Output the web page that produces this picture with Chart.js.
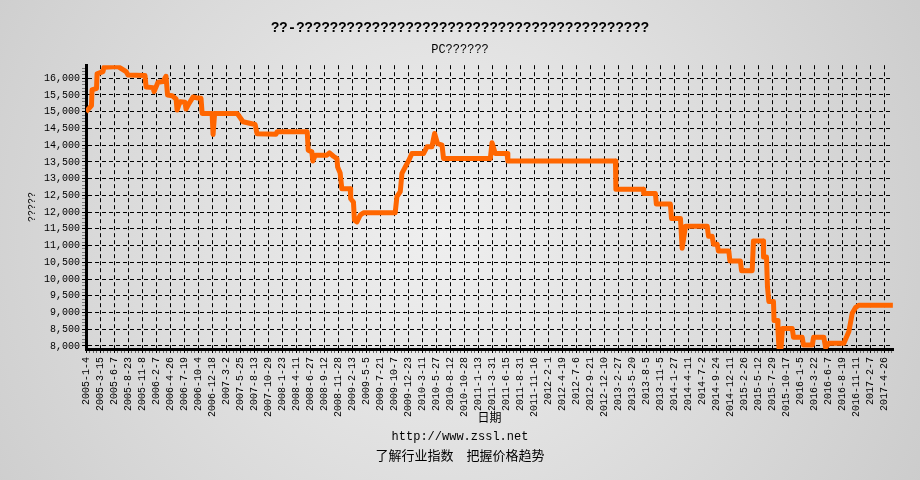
<!DOCTYPE html>
<html>
<head>
<meta charset="utf-8">
<script src="https://cdn.jsdelivr.net/npm/chart.js@4.4.0/dist/chart.umd.min.js"></script>
<style>
body { margin: 0; background: #d4d4d4; }
#wrap { width: 920px; height: 480px; }
</style>
</head>
<body>
<div id="wrap"><canvas id="PriceChart" width="920" height="480"></canvas></div>
<script>
const chartTitle = '??-??????????????????????????????????????????';
const chartSubtitle = 'PC??????';
const yAxisTitle = '?????';
const xAxisTitle = '日期';
const footerUrl = 'http://www.zssl.net';
const footerSlogan = '了解行业指数　把握价格趋势';

// date labels shown under the axis, one every few weeks
const dateLabels = [
    '2005-1-4', '2005-3-15', '2005-6-7', '2005-8-23', '2005-11-8',
    '2006-2-7', '2006-4-26', '2006-7-19', '2006-10-4', '2006-12-18',
    '2007-3-2', '2007-5-25', '2007-8-13', '2007-10-29',
    '2008-1-23', '2008-4-11', '2008-6-27', '2008-9-12', '2008-11-28',
    '2009-2-13', '2009-5-5', '2009-7-21', '2009-10-7', '2009-12-23',
    '2010-3-11', '2010-5-27', '2010-8-12', '2010-10-28',
    '2011-1-13', '2011-3-31', '2011-6-15', '2011-8-31', '2011-11-16',
    '2012-2-1', '2012-4-19', '2012-7-6', '2012-9-21', '2012-12-10',
    '2013-2-27', '2013-5-20', '2013-8-5', '2013-11-5',
    '2014-1-27', '2014-4-11', '2014-7-2', '2014-9-24', '2014-12-11',
    '2015-2-26', '2015-5-12', '2015-7-29', '2015-10-17',
    '2016-1-5', '2016-3-22', '2016-6-7', '2016-8-19', '2016-11-11',
    '2017-2-7', '2017-4-26'
];

// position along the date axis (label index, fractional) and price
const datePos = [
    0, 0.39, 0.43, 0.75, 0.79, 1.21, 1.29, 2.29, 2.86, 3.0,
    4.21, 4.29, 4.79, 4.86, 5.14, 5.5, 5.71, 5.82, 6.14, 6.43,
    6.5, 6.71, 7.07, 7.14, 7.29, 7.64, 7.86, 8.21, 8.29, 9.0,
    9.07, 9.18, 10.79, 11.21, 12.07, 12.21, 13.57, 13.64, 15.79, 15.86,
    16.12, 16.19, 16.36, 17.19, 17.38, 17.66, 17.91, 17.96, 18.14, 18.26,
    18.86, 18.89, 19.09, 19.16, 19.34, 19.57, 19.81, 22.07, 22.19, 22.43,
    22.55, 22.79, 23.02, 23.26, 24.09, 24.34, 24.69, 24.88, 25.09, 25.41,
    25.52, 28.86, 28.98, 29.21, 30.05, 30.11, 37.79, 37.82, 39.79, 39.81,
    40.64, 40.71, 41.71, 41.79, 42.43, 42.55, 42.79, 44.34, 44.43, 44.69,
    44.79, 45.05, 45.14, 45.88, 45.96, 46.71, 46.79, 47.55, 47.64, 48.34,
    48.36, 48.57, 48.64, 48.74, 49.07, 49.11, 49.36, 49.39, 49.46, 49.61,
    49.71, 50.41, 50.5, 51.12, 51.21, 51.84, 51.93, 52.66, 52.79, 53.02,
    54.09, 54.45, 54.69, 54.93, 55.16, 57.59
];
const price = [
    15000, 15180, 15650, 15700, 16130, 16200, 16330, 16350, 16200, 16100,
    16080, 15740, 15720, 15600, 15880, 15900, 16060, 15500, 15480, 15380,
    15050, 15300, 15280, 15080, 15200, 15440, 15420, 15400, 14950, 14950,
    14320, 14950, 14950, 14700, 14620, 14340, 14330, 14400, 14400, 13850,
    13800, 13530, 13700, 13700, 13770, 13670, 13600, 13350, 13170, 12700,
    12700, 12400, 12300, 11760, 11710, 11910, 11980, 11980, 12460, 12610,
    13155, 13350, 13530, 13750, 13750, 13950, 13950, 14350, 14050, 14000,
    13600, 13600, 14070, 13750, 13750, 13530, 13530, 12680, 12680, 12560,
    12560, 12240, 12240, 11810, 11810, 10920, 11580, 11580, 11280, 11280,
    11040, 11040, 10840, 10840, 10540, 10540, 10250, 10250, 11140, 11140,
    10660, 10660, 9770, 9330, 9330, 8760, 8760, 8480, 7950, 7950,
    8520, 8520, 8260, 8260, 8030, 8030, 8260, 8260, 7960, 8080,
    8080, 8430, 8980, 9150, 9220, 9220
];

const yMin = 7910;
const yMax = 16390;
const xMax = 57.6;

const canvas = document.getElementById('PriceChart');
const ctx = canvas.getContext('2d');

const monoFont = 'Liberation Mono';
const cjkFont = 'Noto Sans CJK SC';

// grey radial backdrop like the original image
const backdrop = {
    id: 'backdrop',
    beforeDraw(chart) {
        const c = chart.ctx;
        const g = c.createRadialGradient(440, 230, 0, 440, 230, 560);
        g.addColorStop(0, '#efefef');
        g.addColorStop(1, '#cbcbcb');
        c.save();
        c.fillStyle = g;
        c.fillRect(0, 0, chart.width, chart.height);
        c.restore();
    }
};

// two lines of text under the axis title
const footer = {
    id: 'footer',
    afterDraw(chart) {
        const c = chart.ctx;
        c.save();
        c.fillStyle = '#000';
        c.textAlign = 'center';
        c.textBaseline = 'middle';
        c.font = '12px "' + monoFont + '"';
        c.fillText(footerUrl, chart.width / 2, 437);
        c.font = '13px "' + cjkFont + '"';
        c.fillText(footerSlogan, chart.width / 2, 455);
        c.restore();
    }
};

const isMajorY = v => v % 500 === 0;
const isMajorX = v => Number.isInteger(v);

var chart = new Chart(ctx, {
    type: 'line',
    plugins: [backdrop, footer],
    data: {
        datasets: [{
            label: chartSubtitle,
            data: datePos.map((p, i) => ({ x: p, y: price[i] })),
            borderColor: '#FF6600',
            backgroundColor: '#FF6600',
            borderWidth: 5,
            borderJoinStyle: 'round',
            pointRadius: 0,
            tension: 0,
            fill: false
        }]
    },
    options: {
        responsive: false,
        animation: false,
        layout: { padding: { left: 0, top: 0, right: 0, bottom: 54 } },
        plugins: {
            legend: { display: false },
            tooltip: { enabled: false },
            title: {
                display: true,
                text: chartTitle,
                color: '#000',
                font: { family: monoFont, size: 14, weight: 'bold' },
                padding: { top: 20, bottom: 6 }
            },
            subtitle: {
                display: true,
                text: chartSubtitle,
                color: '#000',
                font: { family: monoFont, size: 12 },
                padding: { top: 0, bottom: 8 }
            }
        },
        scales: {
            x: {
                type: 'linear',
                position: 'bottom',
                min: 0,
                max: xMax,
                afterBuildTicks: scale => {
                    const t = [];
                    for (let v = 0; v <= dateLabels.length - 0.5; v += 0.25) t.push({ value: v });
                    scale.ticks = t;
                },
                afterFit: scale => { scale.height = 77; },
                ticks: {
                    autoSkip: false,
                    minRotation: 90,
                    maxRotation: 90,
                    padding: 4,
                    color: '#000',
                    font: { family: monoFont, size: 10 },
                    callback: v => isMajorX(v) ? dateLabels[v] : ''
                },
                grid: {
                    color: c => isMajorX(c.tick.value) ? '#000' : 'rgba(0,0,0,0)',
                    lineWidth: 1,
                    tickLength: 4,
                    tickColor: c => isMajorX(c.tick.value) ? '#000' : '#666'
                },
                border: { color: '#000', width: 3, dash: [4, 3] },
                title: {
                    display: true,
                    text: xAxisTitle,
                    color: '#000',
                    font: { family: cjkFont, size: 12 },
                    padding: { top: 0, bottom: 1 }
                }
            },
            y: {
                type: 'linear',
                position: 'left',
                min: yMin,
                max: yMax,
                afterBuildTicks: scale => {
                    const t = [];
                    for (let v = 8000; v <= 16300; v += 100) t.push({ value: v });
                    scale.ticks = t;
                },
                afterFit: scale => { scale.width = 86; },
                ticks: {
                    autoSkip: false,
                    padding: 2,
                    color: '#000',
                    font: { family: monoFont, size: 10 },
                    callback: v => isMajorY(v) ? v.toLocaleString('en-US') : ''
                },
                grid: {
                    color: c => isMajorY(c.tick.value) ? '#000' : 'rgba(0,0,0,0)',
                    lineWidth: 1,
                    tickLength: 4,
                    tickColor: c => isMajorY(c.tick.value) ? '#000' : '#777'
                },
                border: { color: '#000', width: 3, dash: [4, 3] },
                title: {
                    display: true,
                    text: yAxisTitle,
                    color: '#000',
                    font: { family: monoFont, size: 10 },
                    padding: { top: 26, bottom: 0 }
                }
            },
            // empty strip on the right so the titles stay centred on the page
            yRight: {
                position: 'right',
                grid: { display: false },
                border: { display: false },
                ticks: { display: false },
                afterFit: scale => { scale.width = 27; }
            }
        }
    }
});
</script>
</body>
</html>
